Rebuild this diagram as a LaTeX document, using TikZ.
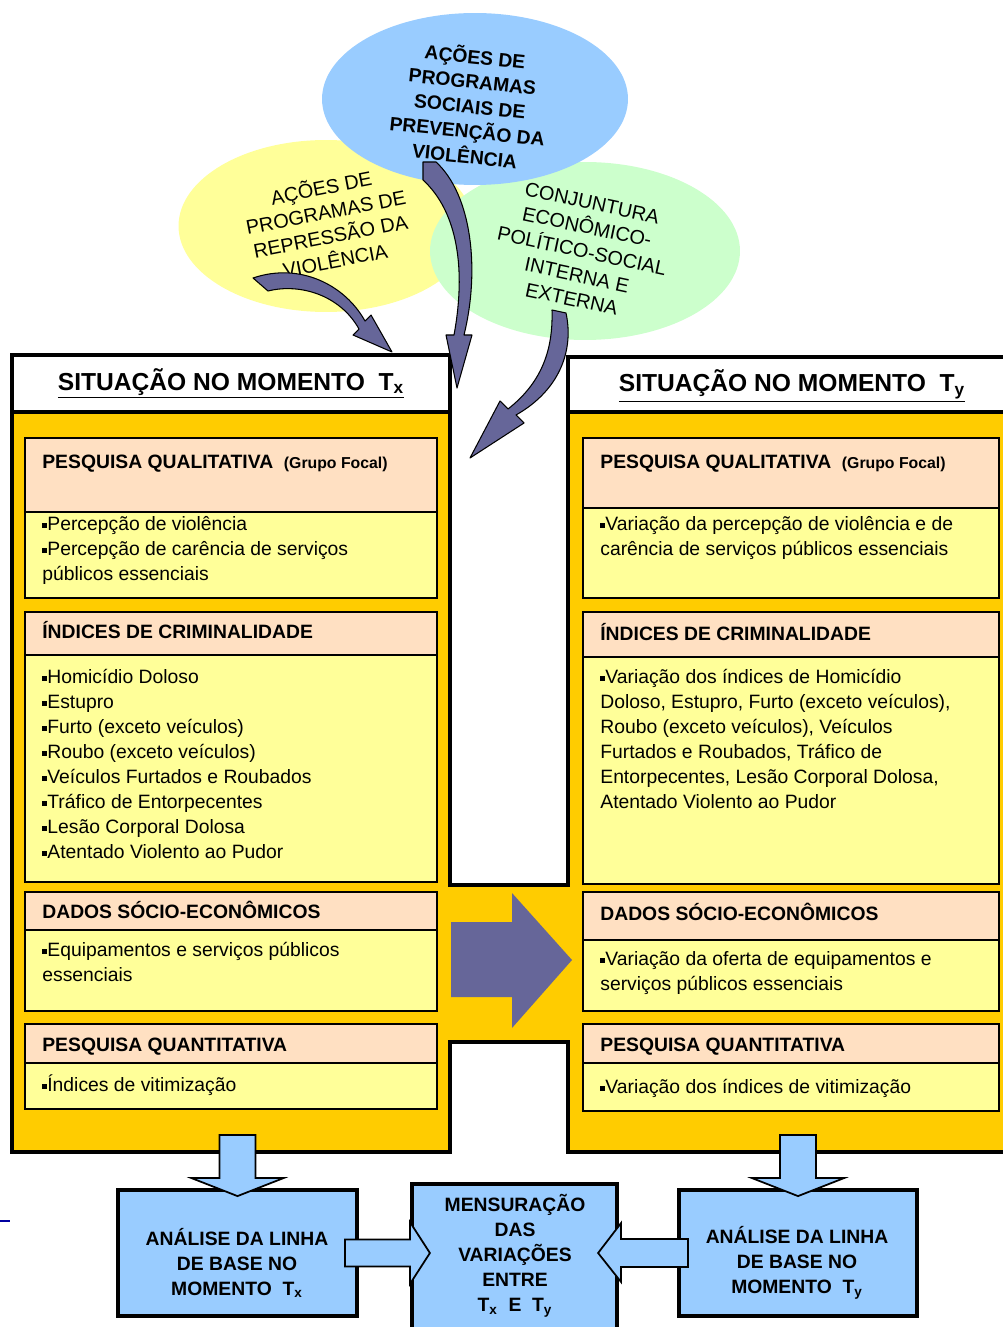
\documentclass[tikz,border=0pt]{standalone}
\usepackage{fontspec}
\setmainfont{Liberation Sans}
\usetikzlibrary{shapes.geometric}

\definecolor{painel}{HTML}{FFCC00}
\definecolor{cabec}{HTML}{FFE0C2}
\definecolor{corpo}{HTML}{FFFF99}
\definecolor{azul}{HTML}{99CCFF}
\definecolor{roxo}{HTML}{666699}
\definecolor{verde}{HTML}{CCFFCC}
\definecolor{amarelo}{HTML}{FFFF99}
\definecolor{marinho}{RGB}{0,0,160}

\newcommand{\qd}{\raisebox{0.28ex}{\rule{0.26em}{0.26em}}}

\tikzset{
  hdrbox/.style={draw=black, line width=0.8pt, fill=cabec},
  bodybox/.style={draw=black, line width=0.8pt, fill=corpo},
  hdrtxt/.style={anchor=base west, inner sep=0pt, font=\fontsize{11}{14}\selectfont\bfseries},
  bodytxt/.style={anchor=north west, inner sep=0pt, align=left, font=\fontsize{11}{14.2}\selectfont},
  titletxt/.style={anchor=base, inner sep=0pt, font=\fontsize{14}{17}\selectfont\bfseries},
  bluebox/.style={draw=black, line width=2.2pt, fill=azul},
  blocktxt/.style={align=center, inner sep=0pt, font=\fontsize{11}{14.2}\selectfont\bfseries},
  setabloco/.style={fill=azul, draw=black, line width=1pt, line join=miter},
  bentarrow/.style={fill=roxo, draw=black, line width=0.6pt, line join=round},
  nuvem/.style={ellipse, inner sep=0pt},
  nuvemtxt/.style={align=center, inner sep=0pt, font=\fontsize{11.3}{14}\selectfont}
}

\begin{document}
\begin{tikzpicture}[x=0.02cm,y=-0.02cm]
		\useasboundingbox (0,0) rectangle (1002,1327);
		\node[nuvem, fill=amarelo, minimum width=5.9cm, minimum height=3.44cm] (repr) at (326,226) {};
		\node[nuvem, fill=verde, minimum width=6.2cm, minimum height=3.56cm] (conj) at (585,251) {};
		\node[nuvem, fill=azul, minimum width=6.12cm, minimum height=3.44cm] (prev) at (475,99) {};
		\node[nuvemtxt, rotate=11] (reprtxt) at (328,223) {AÇÕES DE\\PROGRAMAS DE\\REPRESSÃO DA\\VIOLÊNCIA};
		\node[nuvemtxt, rotate=-12] (conjtxt) at (582,251) {CONJUNTURA\\ECONÔMICO-\\POLÍTICO-SOCIAL\\INTERNA E\\EXTERNA};
		\node[nuvemtxt, font=\fontsize{11}{14.2}\selectfont\bfseries, rotate=-6] (prevtxt) at (470,105) {AÇÕES DE\\PROGRAMAS\\SOCIAIS DE\\PREVENÇÃO DA\\VIOLÊNCIA};
		\filldraw[fill=painel, line width=2.2pt] (12,355) -- (450,355) -- (450,885) -- (568,885) -- (568,357) -- (1015,357) -- (1015,1152) -- (568,1152) -- (568,1042) -- (450,1042) -- (450,1152) -- (12,1152) -- cycle;
		\filldraw[fill=white, line width=2.2pt] (12,355) rectangle (450,412);
		\filldraw[fill=white, line width=2.2pt] (568,357) rectangle (1015,412);
		\node[titletxt] (tx) at (231,390) {\underline{SITUAÇÃO NO MOMENTO\ \ T\textsubscript{x}}};
		\node[titletxt] (ty) at (792,392) {\underline{SITUAÇÃO NO MOMENTO\ \ T\textsubscript{y}}};
		\foreach \ya/\yb/\yc in {438/512/598, 612/655/882, 892/930/1011, 1024/1063/1109}
		{
			\draw[hdrbox] (25,\ya) rectangle (437,\yb);
			\draw[bodybox] (25,\yb) rectangle (437,\yc);
		}
		\foreach \ya/\yb/\yc in {438/508/598, 612/657/884, 892/940/1011, 1024/1063/1111}
		{
			\draw[hdrbox] (583,\ya) rectangle (999,\yb);
			\draw[bodybox] (583,\yb) rectangle (999,\yc);
		}
		\node[hdrtxt] (qualx) at (42,468) {PESQUISA QUALITATIVA\ \ {\fontsize{9}{11}\selectfont(Grupo Focal)}};
		\node[bodytxt] (qualxb) at (42,513) {\strut\qd Percepção de violência\\\qd Percepção de carência de serviços\\públicos essenciais};
		\node[hdrtxt] (crimx) at (42,638) {ÍNDICES DE CRIMINALIDADE};
		\node[bodytxt] (crimxb) at (42,666) {\strut\qd Homicídio Doloso\\\qd Estupro\\\qd Furto (exceto veículos)\\\qd Roubo (exceto veículos)\\\qd Veículos Furtados e Roubados\\\qd Tráfico de Entorpecentes\\\qd Lesão Corporal Dolosa\\\qd Atentado Violento ao Pudor};
		\node[hdrtxt] (socx) at (42,918) {DADOS SÓCIO-ECONÔMICOS};
		\node[bodytxt] (socxb) at (42,939) {\strut\qd Equipamentos e serviços públicos\\essenciais};
		\node[hdrtxt] (quantx) at (42,1051) {PESQUISA QUANTITATIVA};
		\node[bodytxt] (quantxb) at (42,1074) {\strut\qd Índices de vitimização};
		\node[hdrtxt] (qualy) at (600,468) {PESQUISA QUALITATIVA\ \ {\fontsize{9}{11}\selectfont(Grupo Focal)}};
		\node[bodytxt] (qualyb) at (600,513) {\strut\qd Variação da percepção de violência e de\\carência de serviços públicos essenciais};
		\node[hdrtxt] (crimy) at (600,640) {ÍNDICES DE CRIMINALIDADE};
		\node[bodytxt] (crimyb) at (600,666) {\strut\qd Variação dos índices de Homicídio\\Doloso, Estupro, Furto (exceto veículos),\\Roubo (exceto veículos), Veículos\\Furtados e Roubados, Tráfico de\\Entorpecentes, Lesão Corporal Dolosa,\\Atentado Violento ao Pudor};
		\node[hdrtxt] (socy) at (600,920) {DADOS SÓCIO-ECONÔMICOS};
		\node[bodytxt] (socyb) at (600,948) {\strut\qd Variação da oferta de equipamentos e\\serviços públicos essenciais};
		\node[hdrtxt] (quanty) at (600,1051) {PESQUISA QUANTITATIVA};
		\node[bodytxt] (quantyb) at (600,1076) {\strut\qd Variação dos índices de vitimização};
		\fill[roxo] (451,922) -- (512,922) -- (512,893) -- (572,960) -- (512,1028) -- (512,997) -- (451,997) -- cycle;
		\filldraw[bentarrow] (253,278) .. controls (300,262) and (345,285) .. (365,321) -- (371,315) -- (392,352) -- (353,335) -- (359,329) .. controls (340,295) and (300,283) .. (268,291) -- cycle;
		\filldraw[bentarrow] (423,162) -- (436,162) .. controls (472,195) and (480,270) .. (464,335) -- (472,335) -- (457,388) -- (446,335) -- (454,335) .. controls (466,270) and (458,212) .. (423,180) -- cycle;
		\filldraw[bentarrow] (552,310) -- (566,313) .. controls (574,350) and (560,390) .. (516,415) -- (524,423) -- (470,458) -- (500,401) -- (508,409) .. controls (545,380) and (553,345) .. (552,310) -- cycle;
		\node[bluebox, minimum width=4.78cm, minimum height=2.52cm] (basex) at (237.5,1253) {};
		\node[bluebox, minimum width=4.1cm, minimum height=3.2cm, anchor=north] (mens) at (514.5,1182) {};
		\node[bluebox, minimum width=4.76cm, minimum height=2.52cm] (basey) at (798,1253) {};
		\node[blocktxt] (basextxt) at (237,1263) {ANÁLISE DA LINHA\\DE BASE NO\\MOMENTO~~T\textsubscript{x}};
		\node[blocktxt] (menstxt) at (515,1256) {MENSURAÇÃO\\DAS\\VARIAÇÕES\\ENTRE\\T\textsubscript{x}~~E~~T\textsubscript{y}};
		\node[blocktxt] (baseytxt) at (797,1263) {ANÁLISE DA LINHA\\DE BASE NO\\MOMENTO~~T\textsubscript{y}};
		\begin{scope}[shift={(basex.north)}]
		\filldraw[setabloco] (-18,-53) -- (18,-53) -- (18,-10) -- (46,-10) -- (0,8) -- (-46,-10) -- (-18,-10) -- cycle;
		\end{scope}
		\begin{scope}[shift={(basey.north)}]
		\filldraw[setabloco] (-18,-53) -- (18,-53) -- (18,-10) -- (46,-10) -- (0,8) -- (-46,-10) -- (-18,-10) -- cycle;
		\end{scope}
		\begin{scope}[shift={(basex.east)}]
		\filldraw[setabloco] (-14,-13.5) -- (51,-13.5) -- (51,-31) -- (71,0) -- (51,31) -- (51,13.5) -- (-14,13.5) -- cycle;
		\end{scope}
		\begin{scope}[shift={(basey.west)}]
		\filldraw[setabloco] (11,-14) -- (-56,-14) -- (-56,-30) -- (-79,0) -- (-56,29) -- (-56,14) -- (11,14) -- cycle;
		\end{scope}
		\draw[marinho, line width=1.2pt] (0,1221) -- (10,1221);
\end{tikzpicture}
\end{document}
